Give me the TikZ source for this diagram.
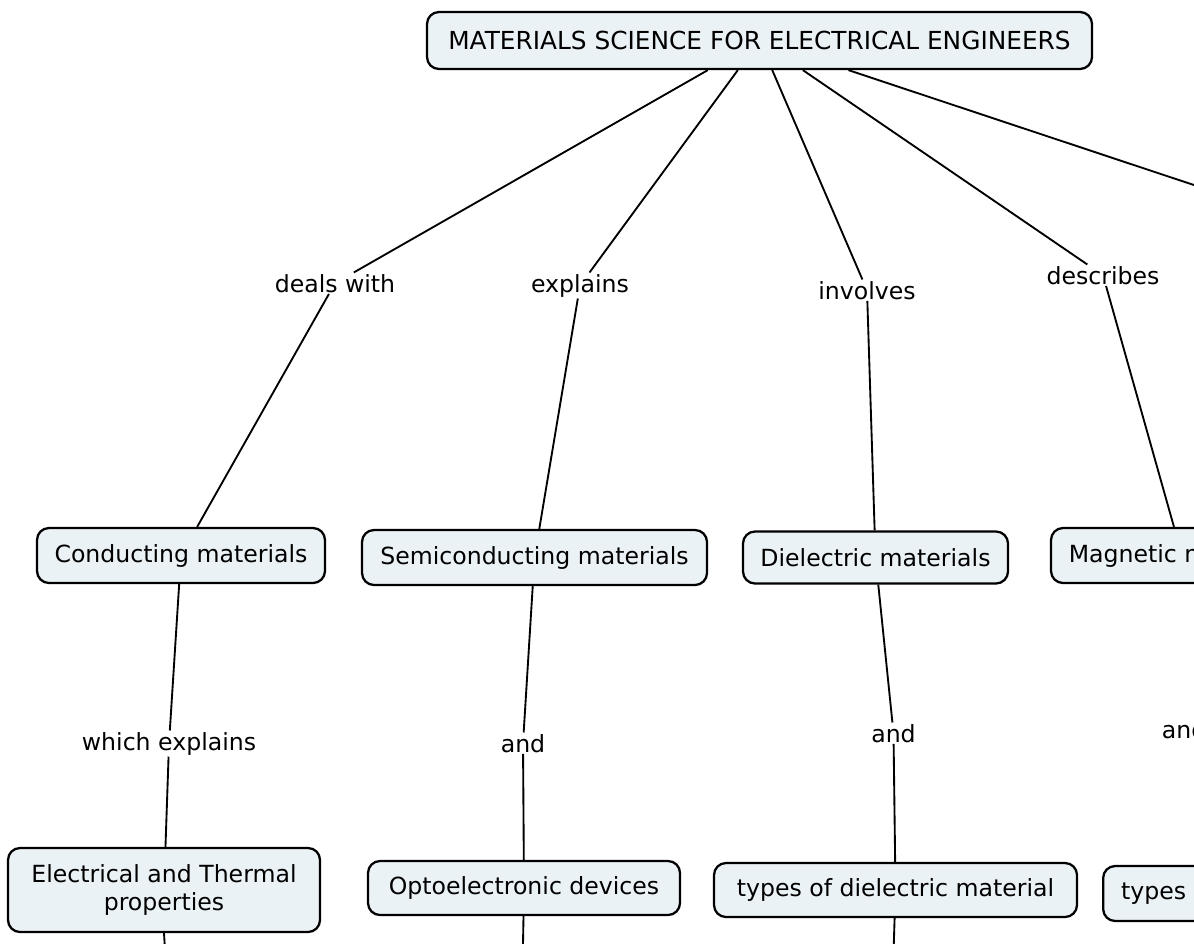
\documentclass[tikz,border=0pt]{standalone}
\usepackage{fontspec}
\setmainfont{DejaVu Sans}
\definecolor{boxfill}{RGB}{235,242,245}
\begin{document}
\begin{tikzpicture}[x=0.75pt,y=-0.75pt,
  box/.style={draw=black, line width=1.7pt, fill=boxfill, rounded corners=9pt,
    inner sep=0pt, font=\fontsize{17.7pt}{21pt}\selectfont, align=center},
  lab/.style={inner sep=1pt, anchor=base, font=\fontsize{17.7pt}{21pt}\selectfont},
  link/.style={line width=1.4pt, draw=black}]
\useasboundingbox (0,0) rectangle (1194,943);
\clip (0,0) rectangle (1194,943);

% concept boxes
\node[box, minimum width=498.75pt, minimum height=42.75pt, font=\fontsize{18.6pt}{22pt}\selectfont] (title) at (759.5,40.5) {MATERIALS SCIENCE FOR ELECTRICAL ENGINEERS};
\node[box, minimum width=216pt, minimum height=41.25pt] (cond) at (181,555.5) {Conducting materials};
\node[box, minimum width=258.75pt, minimum height=41.25pt] (semi) at (534.5,557.5) {Semiconducting materials};
\node[box, minimum width=198.75pt, minimum height=39pt] (diel) at (875.5,557.5) {Dielectric materials};
\node[box, minimum width=196.5pt, minimum height=41.25pt] (magn) at (1182,555.5) {Magnetic materials};
\node[box, minimum width=234pt, minimum height=63pt] (elec) at (164,890) {Electrical and Thermal\\properties};
\node[box, minimum width=234pt, minimum height=40.5pt] (opto) at (524,888) {Optoelectronic devices};
\node[box, minimum width=272.25pt, minimum height=40.5pt] (tdiel) at (895.5,890) {types of dielectric material};
\node[box, anchor=west, minimum height=41.25pt, inner xsep=13.5pt, text width=200pt, align=left] (tmagn) at (1102,893.5) {types};

% linking phrases
\node[lab] (l1) at (335,292) {deals with};
\node[lab] (l2) at (580,292) {explains};
\node[lab] (l3) at (867,299) {involves};
\node[lab] (l4) at (1103,284) {describes};
\node[lab] (l5) at (169,750) {which explains};
\node[lab] (l6) at (523,752) {and};
\node[lab] (l7) at (893.5,742) {and};
\node[lab] (l8) at (1184,738) {and};

% off-canvas ends
\coordinate (outR) at (1260,207);
\coordinate (outE) at (168,1000);
\coordinate (outO) at (522,1000);
\coordinate (outD) at (892,1000);

% connectors
\draw[link] (title) -- (l1);
\draw[link] (l1) -- (cond);
\draw[link] (title) -- (l2);
\draw[link] (l2) -- (semi);
\draw[link] (title) -- (l3);
\draw[link] (l3) -- (diel);
\draw[link] (title) -- (l4);
\draw[link] (l4) -- (magn);
\draw[link] (title) -- (outR);
\draw[link] (cond) -- (l5);
\draw[link] (l5) -- (elec);
\draw[link] (semi) -- (l6);
\draw[link] (l6) -- (opto);
\draw[link] (diel) -- (l7);
\draw[link] (l7) -- (tdiel);
\draw[link] (elec.south) -- (outE);
\draw[link] (opto) -- (outO);
\draw[link] (tdiel) -- (outD);
\end{tikzpicture}
\end{document}
